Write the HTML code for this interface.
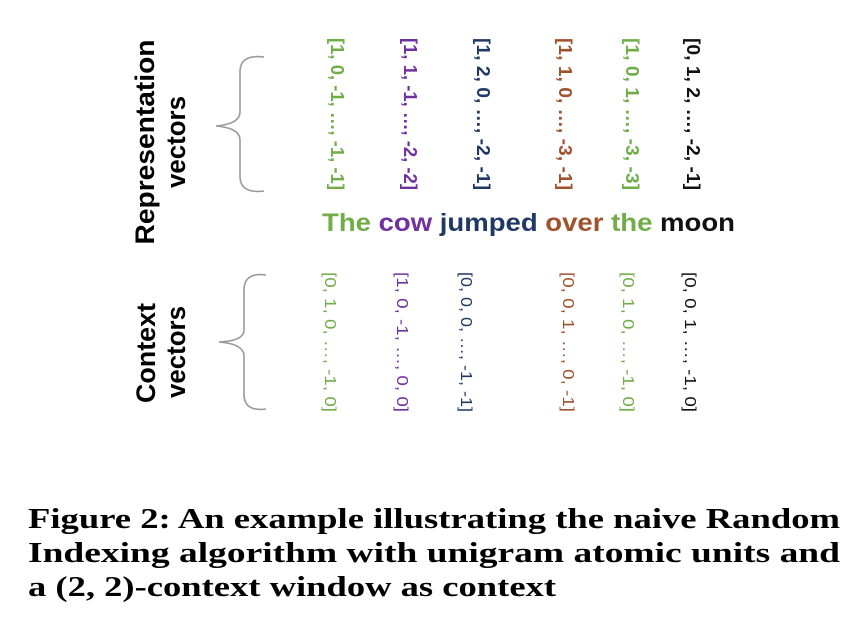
<!DOCTYPE html>
<html><head><meta charset="utf-8"><style>
html,body{margin:0;padding:0;background:#fff;width:858px;height:624px;overflow:hidden}
svg{display:block}
</style></head><body>
<svg width="858" height="624" viewBox="0 0 858 624">
<g font-family="'Liberation Sans', sans-serif" font-weight="bold" fill="#000" font-size="27">
  <text transform="translate(154,142) rotate(-90)" text-anchor="middle" textLength="205" lengthAdjust="spacingAndGlyphs">Representation</text>
  <text transform="translate(185,142) rotate(-90)" text-anchor="middle" textLength="92" lengthAdjust="spacingAndGlyphs">vectors</text>
  <text transform="translate(155,353) rotate(-90)" text-anchor="middle" textLength="100" lengthAdjust="spacingAndGlyphs">Context</text>
  <text transform="translate(185,352) rotate(-90)" text-anchor="middle" textLength="92" lengthAdjust="spacingAndGlyphs">vectors</text>
</g>
<path d="M264,57 Q240,54 240,72 L240,112 Q240,124 216,126 Q240,128 240,140 L240,176 Q240,194 264,191" fill="none" stroke="#999" stroke-width="1.6"/>
<path d="M266,275 Q244,272 244,290 L244,330 Q244,341 219,342 Q244,344 244,356 L244,394 Q244,412 266,409" fill="none" stroke="#999" stroke-width="1.6"/>
<g id="rep" font-family="'Liberation Sans', sans-serif" font-size="18" font-weight="bold"></g>
<g id="ctx" font-family="'Liberation Sans', sans-serif" font-size="16"></g>
<text x="322" y="231" font-family="'Liberation Sans', sans-serif" font-weight="bold" font-size="25" textLength="413" lengthAdjust="spacingAndGlyphs"><tspan fill="#70ad47">The </tspan><tspan fill="#7030a0">cow </tspan><tspan fill="#1f3864">jumped </tspan><tspan fill="#a0522d">over </tspan><tspan fill="#70ad47">the </tspan><tspan fill="#111">moon</tspan></text>
<g font-family="'Liberation Serif', serif" font-weight="bold" font-size="28" fill="#000">
  <text x="28" y="528" textLength="812" lengthAdjust="spacingAndGlyphs">Figure 2:  An example illustrating the naive Random</text>
  <text x="28" y="562" textLength="812" lengthAdjust="spacingAndGlyphs">Indexing algorithm with unigram atomic units and</text>
  <text x="28" y="596" textLength="528" lengthAdjust="spacingAndGlyphs">a (2, 2)-context window as context</text>
</g>
</svg>
<script>
const colors = ["#70ad47","#7030a0","#1f3864","#a0522d","#70ad47","#111"];
const repVectors = ["[1, 0, -1, …, -1, -1]","[1, 1, -1, …, -2, -2]","[1, 2, 0, …, -2, -1]","[1, 1, 0, …, -3, -1]","[1, 0, 1, …, -3, -3]","[0, 1, 2, …, -2, -1]"];
const ctxVectors = ["[0, 1, 0, …, -1, 0]","[1, 0, -1, …, 0, 0]","[0, 0, 0, …, -1, -1]","[0, 0, 1, …, 0, -1]","[0, 1, 0, …, -1, 0]","[0, 0, 1, …, -1, 0]"];
const repX = [331, 404, 477, 559, 626, 687];
const ctxX = [325, 397, 461, 563, 623, 685];
const NS = "http://www.w3.org/2000/svg";
function draw(gid, arr, xs, cy, len, prefix){
  const g = document.getElementById(gid);
  arr.forEach((s,i)=>{
    const t = document.createElementNS(NS,"text");
    t.setAttribute("transform",`translate(${xs[i]},${cy}) rotate(90)`);
    t.setAttribute("text-anchor","middle");
    t.setAttribute("fill",colors[i]);
    t.setAttribute("textLength",len);
    t.setAttribute("lengthAdjust","spacingAndGlyphs");
    
    
    t.textContent = s;
    g.appendChild(t);
  });
}
draw("rep", repVectors, repX, 114, 152, "representation-vector");
draw("ctx", ctxVectors, ctxX, 342, 140, "context-vector");
</script>
</body></html>
